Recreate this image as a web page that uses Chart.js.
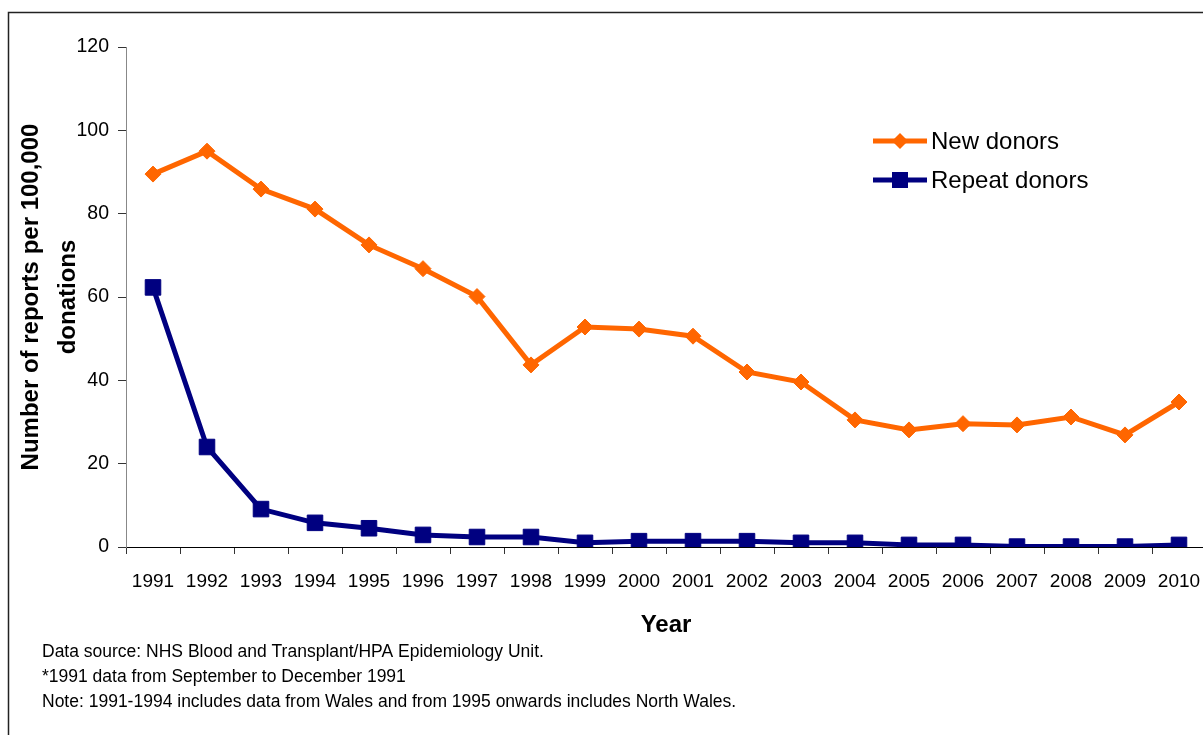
<!DOCTYPE html>
<html>
<head>
<meta charset="utf-8">
<script src="https://cdn.jsdelivr.net/npm/chart.js@4.4.1/dist/chart.umd.min.js"></script>
<style>
  html, body { margin: 0; padding: 0; background: #fff; overflow: hidden; }
  canvas { display: block; }
</style>
</head>
<body>
<canvas id="chart" width="1230" height="735"></canvas>
<script>
// values
var years = ['1991', '1992', '1993', '1994', '1995', '1996', '1997', '1998', '1999', '2000',
             '2001', '2002', '2003', '2004', '2005', '2006', '2007', '2008', '2009', '2010'];
var newDonors = [89.5, 95.0, 85.9, 81.1, 72.5, 66.8, 60.1, 43.7, 52.8, 52.3,
                 50.6, 42.0, 39.6, 30.5, 28.1, 29.6, 29.3, 31.2, 26.9, 34.8];
var repeatDonors = [62.3, 24.0, 9.1, 5.8, 4.5, 2.9, 2.4, 2.4, 1.0, 1.4,
                    1.4, 1.4, 1.0, 1.0, 0.5, 0.5, 0.1, 0.1, 0.1, 0.5];
var footnotes = [
  'Data source: NHS Blood and Transplant/HPA Epidemiology Unit.',
  '*1991 data from September to December 1991',
  'Note: 1991-1994 includes data from Wales and from 1995 onwards includes North Wales.'
];

var FONT = '"Liberation Sans", Arial, sans-serif';
var ORANGE = '#ff6600';
var NAVY = '#000080';

/**
 * Frame, footnotes and the line-with-marker legend
 * are drawn here since Chart.js has no such legend.
 */
var extras = {
  id: 'extras',
  afterDraw: function(chart) {
    var ctx = chart.ctx;
    ctx.save();

    ctx.strokeStyle = '#222';
    ctx.lineWidth = 1.5;
    ctx.strokeRect(8.5, 12.5, 1400, 900);

    ctx.fillStyle = '#000';
    ctx.font = '17.5px ' + FONT;
    ctx.textBaseline = 'middle';
    ctx.textAlign = 'left';
    footnotes.forEach(function(line, i) {
      ctx.fillText(line, 42, 652 + i * 25);
    });

    chart.data.datasets.forEach(function(ds, i) {
      var y = 141 + i * 39;
      ctx.strokeStyle = ds.borderColor;
      ctx.fillStyle = ds.borderColor;
      ctx.lineWidth = 5;
      ctx.beginPath();
      ctx.moveTo(873, y);
      ctx.lineTo(927, y);
      ctx.stroke();
      ctx.beginPath();
      if (ds.pointStyle === 'rectRot') {
        ctx.moveTo(900, y - 8);
        ctx.lineTo(908, y);
        ctx.lineTo(900, y + 8);
        ctx.lineTo(892, y);
        ctx.closePath();
      } else {
        ctx.rect(892, y - 8, 16, 16);
      }
      ctx.fill();
      ctx.fillStyle = '#000';
      ctx.font = '24px ' + FONT;
      ctx.fillText(ds.label, 931, y + 1);
    });

    ctx.restore();
  }
};

var ctx = document.getElementById('chart').getContext('2d');
var chart = new Chart(ctx, {
  type: 'line',
  data: {
    labels: years,
    datasets: [
      {
        label: 'New donors',
        data: newDonors,
        borderColor: ORANGE,
        backgroundColor: ORANGE,
        borderWidth: 5,
        pointStyle: 'rectRot',
        pointRadius: 8,
        pointBorderWidth: 1,
        pointBackgroundColor: ORANGE,
        pointBorderColor: ORANGE,
        tension: 0
      },
      {
        label: 'Repeat donors',
        data: repeatDonors,
        borderColor: NAVY,
        backgroundColor: NAVY,
        borderWidth: 5,
        pointStyle: 'rect',
        pointRadius: 11,
        pointBorderWidth: 1,
        pointBackgroundColor: NAVY,
        pointBorderColor: NAVY,
        tension: 0
      }
    ]
  },
  options: {
    responsive: false,
    animation: false,
    devicePixelRatio: 1,
    layout: { padding: { left: 0, top: 47, right: 24, bottom: 0 } },
    plugins: {
      legend: { display: false },
      tooltip: { enabled: false }
    },
    scales: {
      x: {
        offset: true,
        grid: { offset: true, drawOnChartArea: false, drawTicks: true, tickLength: 7, color: '#333' },
        border: { color: '#000', width: 1 },
        ticks: { color: '#000', font: { family: FONT, size: 19 }, padding: 16, maxRotation: 0, autoSkip: false },
        title: {
          display: true, text: 'Year', color: '#000',
          font: { family: FONT, size: 24, weight: 'bold' },
          padding: { top: 0, bottom: 95 }
        },
        afterFit: function(scale) { scale.height = 188; }
      },
      y: {
        min: 0,
        max: 120,
        ticks: { stepSize: 20, color: '#000', font: { family: FONT, size: 19.5 }, padding: 9 },
        grid: { drawOnChartArea: false, drawTicks: true, tickLength: 8, color: '#333' },
        border: { color: '#888', width: 1 },
        title: {
          display: true,
          text: ['Number of reports per 100,000', 'donations'],
          color: '#000',
          font: { family: FONT, size: 24, weight: 'bold', lineHeight: 1.55 },
          padding: { top: 13, bottom: 0 }
        },
        afterFit: function(scale) { scale.width = 126; }
      }
    }
  },
  plugins: [extras]
});
</script>
</body>
</html>
